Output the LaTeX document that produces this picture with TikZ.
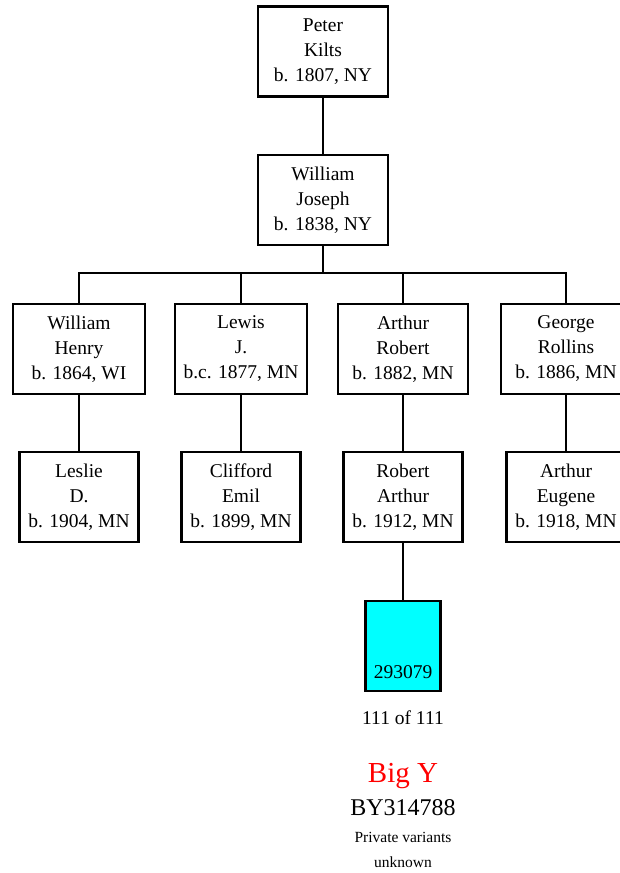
\documentclass[tikz,border=0pt]{standalone}
\usepackage{fontspec}
\setmainfont{Liberation Serif}
\definecolor{hapcyan}{RGB}{0,255,255}
\begin{document}
\begin{tikzpicture}[x=1pt,y=-1pt,
  person/.style={draw, line width=2.2pt, fill=white, align=center, minimum height=90pt, inner sep=0pt, font=\fontsize{19.5}{25}\selectfont},
  link/.style={line width=2.2pt},
  info/.style={inner sep=0pt, align=center}]
\useasboundingbox (0,0) rectangle (620,873);
\clip (0,0) rectangle (620,873);
% top
\node[person, minimum width=130pt] (peter) at (323,51.5) {Peter\\Kilts\\b. 1807, NY};
\node[person, minimum width=130pt] (wj) at (323,200) {William\\Joseph\\b. 1838, NY};
\coordinate (bar) at (323,273);
% row 2
\node[person, minimum width=132pt] (wh) at (79,349) {William\\Henry\\b. 1864, WI};
\node[person, minimum width=132pt] (lj) at (241,349) {Lewis\\J.\\b.c. 1877, MN};
\node[person, minimum width=130pt] (ar) at (403,349) {Arthur\\Robert\\b. 1882, MN};
\node[person, minimum width=130pt] (gr) at (566,349) {George\\Rollins\\b. 1886, MN};
% row 3
\node[person, minimum width=119pt] (ld) at (79,497) {Leslie\\D.\\b. 1904, MN};
\node[person, minimum width=119pt] (ce) at (241,497) {Clifford\\Emil\\b. 1899, MN};
\node[person, minimum width=119pt] (ra) at (403,497) {Robert\\Arthur\\b. 1912, MN};
\node[person, minimum width=119pt] (ae) at (566,497) {Arthur\\Eugene\\b. 1918, MN};
% haplogroup box
\node[draw, line width=2.2pt, fill=hapcyan, minimum width=75pt, minimum height=90pt, inner sep=0pt] (hap) at (403,646) {};
\node[info, anchor=south, font=\fontsize{19.5}{23}\selectfont] (kit) at ([yshift=13pt]hap.south) {293079};
% texts below
\node[info, font=\fontsize{19.5}{23}\selectfont] (match) at (403,718) {111 of 111};
\node[info, font=\fontsize{29}{33}\selectfont, text=red] (bigy) at (403,776) {Big Y};
\node[info, font=\fontsize{24}{28}\selectfont] (snp) at (403,808) {BY314788};
\node[info, font=\fontsize{15.5}{25}\selectfont] (priv) at (403,850) {Private variants\\unknown};
% connectors
\draw[link] (peter) -- (wj);
\draw[link] (wj) -- (bar);
\draw[link] (wh.north) |- (bar);
\draw[link] (lj.north) |- (bar);
\draw[link] (ar.north) |- (bar);
\draw[link] (gr.north) |- (bar);
\draw[link] (wh) -- (ld);
\draw[link] (lj) -- (ce);
\draw[link] (ar) -- (ra);
\draw[link] (gr) -- (ae);
\draw[link] (ra) -- (hap);
\end{tikzpicture}
\end{document}
